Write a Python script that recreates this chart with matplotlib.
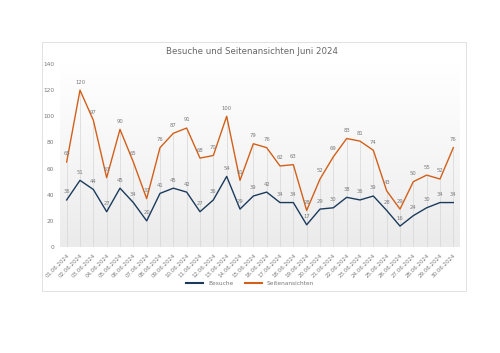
import matplotlib
matplotlib.use("Agg")
import matplotlib.pyplot as plt
import numpy as np
from matplotlib.patches import Rectangle
from matplotlib.colors import LinearSegmentedColormap

dates = [f"{d:02d}.06.2024" for d in range(1, 31)]
besuche = [36, 51, 44, 27, 45, 34, 20, 41, 45, 42, 27, 36, 54, 29, 39, 42, 34, 34, 17, 29,
           30, 38, 36, 39, 28, 16, 24, 30, 34, 34]
seiten = [65, 120, 97, 53, 90, 65, 37, 76, 87, 91, 68, 70, 100, 51, 79, 76, 62, 63, 28, 52,
          69, 83, 81, 74, 43, 29, 50, 55, 52, 76]
title = "Besuche und Seitenansichten Juni 2024"
yticks = [0, 20, 40, 60, 80, 100, 120, 140]

W, H = 500, 353
fig = plt.figure(figsize=(W / 100, H / 100), dpi=100)
fig.patch.set_facecolor("white")

# card
card = Rectangle((42 / W, 1 - 291 / H), (466 - 42) / W, (291 - 42) / H,
                 transform=fig.transFigure, facecolor="white", edgecolor="#dcdcdc",
                 linewidth=0.6, zorder=-5)
fig.patches.append(card)

ax = fig.add_axes([60 / W, 1 - 247 / H, 400 / W, 183 / H])
ax.set_zorder(2)
ax.patch.set_alpha(0)
x = np.arange(len(dates))

# gradient background
grad = np.linspace(0, 1, 256).reshape(-1, 1)
cmap = LinearSegmentedColormap.from_list("g", ["#ebebeb", "#f6f6f6", "#ffffff"])
ax.imshow(grad, extent=[0, 1, 0, 1], transform=ax.transAxes, cmap=cmap,
          aspect="auto", origin="lower", zorder=0)

top = [max(a, b) for a, b in zip(besuche, seiten)]
ax.vlines(x, 0, top, color="#d6d6d6", linewidth=0.5, zorder=1)
ax.axhline(0, color="#d9d9d9", linewidth=0.6, zorder=1)

blue = "#1b3a5c"
orange = "#d2601a"
ax.plot(x, besuche, color=blue, linewidth=1.0, label="Besuche", zorder=3)
ax.plot(x, seiten, color=orange, linewidth=1.0, label="Seitenansichten", zorder=3)

lc = "#7a7a7a"
for xi, v in zip(x, besuche):
    ax.annotate(str(v), (xi, v), xytext=(0, 4), textcoords="offset points",
                ha="center", va="bottom", fontsize=3.8, color=lc, zorder=4)
for xi, v in zip(x, seiten):
    ax.annotate(str(v), (xi, v), xytext=(0, 4), textcoords="offset points",
                ha="center", va="bottom", fontsize=3.8, color=lc, zorder=4)

ax.set_xlim(-0.5, len(dates) - 0.5)
ax.set_ylim(0, 140)
ax.set_yticks(yticks)
ax.set_yticklabels([str(t) for t in yticks], fontsize=4.2, color=lc)
ax.set_xticks(x)
ax.set_xticklabels(dates, rotation=45, ha="right", rotation_mode="anchor",
                   fontsize=4.0, color=lc)
ax.tick_params(axis="both", length=0, pad=4)
for s in ax.spines.values():
    s.set_visible(False)

fig.text(252 / W, 1 - 52 / H, title, ha="center", va="center", fontsize=6.2, color="#666666")

leg = fig.legend(loc="center", bbox_to_anchor=(250 / W, 1 - 283 / H), ncol=2,
                 frameon=False, fontsize=4.2, handlelength=3, columnspacing=2,
                 labelcolor=lc)
for line in leg.get_lines():
    line.set_linewidth(1.5)

fig.savefig("out.png", dpi=100)
